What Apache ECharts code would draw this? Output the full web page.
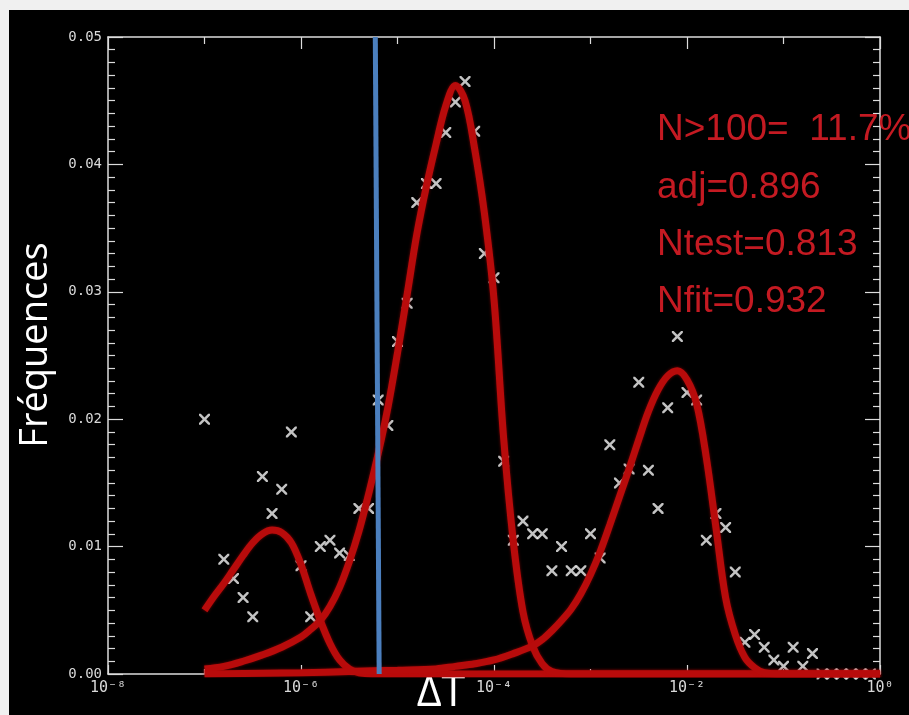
<!DOCTYPE html>
<html>
<head>
<meta charset="utf-8">
<title>Fréquences ΔT</title>
<script src="https://cdn.jsdelivr.net/npm/echarts@6/dist/echarts.min.js"></script>
<style>
  html, body { margin: 0; padding: 0; background: #f0f0f0; }
  #panel { position: absolute; left: 9px; top: 10px; width: 900px; height: 705px; background: #000; }
  #chart { position: absolute; left: 0; top: 0; width: 909px; height: 715px; }
</style>
</head>
<body>
<div id="panel"></div>
<div id="chart"></div>
<script>
// Histogram of ΔT (one bin per 0.1 decade): bin position as log10(ΔT), frequency
const binExp = [
  -7.0, -6.8, -6.7, -6.6, -6.5, -6.4, -6.3, -6.2, -6.1, -6.0,
  -5.9, -5.8, -5.7, -5.6, -5.5, -5.4, -5.3, -5.2, -5.1, -5.0,
  -4.9, -4.8, -4.7, -4.6, -4.5, -4.4, -4.3, -4.2, -4.1, -4.0,
  -3.9, -3.8, -3.7, -3.6, -3.5, -3.4, -3.3, -3.2, -3.1, -3.0,
  -2.9, -2.8, -2.7, -2.6, -2.5, -2.4, -2.3, -2.2, -2.1, -2.0,
  -1.9, -1.8, -1.7, -1.6, -1.5, -1.4, -1.3, -1.2, -1.1, -1.0,
  -0.9, -0.8, -0.7, -0.6, -0.5, -0.4, -0.3, -0.2, -0.1
];
const binFreq = [
  0.0200, 0.0090, 0.0075, 0.0060, 0.0045, 0.0155, 0.0126, 0.0145, 0.0190, 0.0085,
  0.0045, 0.0100, 0.0105, 0.0095, 0.0093, 0.0130, 0.0130, 0.0215, 0.0195, 0.0261,
  0.0291, 0.0370, 0.0385, 0.0385, 0.0425, 0.0449, 0.0465, 0.0426, 0.0330, 0.0311,
  0.0167, 0.0105, 0.0120, 0.0110, 0.0110, 0.0081, 0.0100, 0.0081, 0.0081, 0.0110,
  0.0091, 0.0180, 0.0150, 0.0161, 0.0229, 0.0160, 0.0130, 0.0209, 0.0265, 0.0221,
  0.0215, 0.0105, 0.0126, 0.0115, 0.0080, 0.0025, 0.0031, 0.0021, 0.0011, 0.0006,
  0.0021, 0.0006, 0.0016, 0.0000, 0.0000, 0.0000, 0.0000, 0.0000, 0.0000
];

// Fitted component 1 (short ΔT population)
const fit1Exp = [-7.0, -6.9, -6.8, -6.7, -6.6, -6.5, -6.4, -6.3, -6.2, -6.1, -6.0,
                 -5.9, -5.8, -5.7, -5.6, -5.5, -5.4, -5.2, -4.0, -2.0, 0.0];
const fit1Val = [0.0050, 0.0061, 0.0071, 0.0082, 0.0093, 0.0103, 0.0110, 0.0113, 0.0111, 0.0103, 0.0086,
                 0.0063, 0.0042, 0.0024, 0.0011, 0.0004, 0.0001, 0.0000, 0.0000, 0.0000, 0.0000];

// Fitted component 2 (main peak)
const fit2Exp = [-7.0, -6.8, -6.6, -6.4, -6.2, -6.0, -5.9, -5.8, -5.7, -5.6, -5.5,
                 -5.4, -5.3, -5.2, -5.1, -5.0, -4.9, -4.8, -4.7, -4.6, -4.5,
                 -4.4, -4.3, -4.2, -4.1, -4.0, -3.9, -3.8, -3.7, -3.6, -3.5,
                 -3.4, -3.2, -2.0, 0.0];
const fit2Val = [0.0004, 0.0006, 0.0010, 0.0015, 0.0021, 0.0029, 0.0035, 0.0042, 0.0053, 0.0068, 0.0088,
                 0.0112, 0.0141, 0.0173, 0.0209, 0.0252, 0.0298, 0.0345, 0.0383, 0.0416, 0.0446,
                 0.0462, 0.0450, 0.0412, 0.0362, 0.0294, 0.0185, 0.0104, 0.0049, 0.0022, 0.0008,
                 0.0002, 0.0000, 0.0000, 0.0000];

// Fitted component 3 (long ΔT population)
const fit3Exp = [-7.0, -6.0, -5.5, -5.0, -4.6, -4.4, -4.2, -4.0, -3.8, -3.6, -3.5,
                 -3.4, -3.3, -3.2, -3.1, -3.0, -2.9, -2.8, -2.7, -2.6, -2.5,
                 -2.4, -2.3, -2.2, -2.1, -2.0, -1.9, -1.8, -1.7, -1.6, -1.5,
                 -1.4, -1.3, -1.2, -1.0, 0.0];
const fit3Val = [0.0000, 0.0001, 0.0002, 0.0003, 0.0004, 0.0006, 0.0008, 0.0011, 0.0016, 0.0022, 0.0027,
                 0.0034, 0.0042, 0.0051, 0.0063, 0.0078, 0.0096, 0.0117, 0.0139, 0.0161, 0.0184,
                 0.0206, 0.0223, 0.0234, 0.0238, 0.0231, 0.0212, 0.0170, 0.0115, 0.0060, 0.0031,
                 0.0013, 0.0005, 0.0001, 0.0000, 0.0000];

// Threshold marker (log10 ΔT at top and bottom of the frame)
const thresholdExp = [-5.23, -5.19];
const thresholdVal = [0.05, 0.0];

// Fit summary lines
const statLines = ['N>100=  11.7%', 'adj=0.896', 'Ntest=0.813', 'Nfit=0.932'];

// Axis ticks: labelled decades and the decades in between
const majorDecades = [1e-8, 1e-6, 1e-4, 1e-2, 1];
const minorDecades = [1e-7, 1e-5, 1e-3, 1e-1];
const yTicks = ['0.00', '0.01', '0.02', '0.03', '0.04', '0.05'];
const supers = { '-': '⁻', '0': '⁰', '1': '¹', '2': '²', '3': '³', '4': '⁴', '5': '⁵', '6': '⁶', '7': '⁷', '8': '⁸', '9': '⁹' };

function pairs(exps, vals) {
  return exps.map((e, i) => [Math.pow(10, e), vals[i]]);
}
function powerLabel(v) {
  const e = String(Math.round(Math.log10(v)));
  return '10' + e.split('').map(c => supers[c]).join('');
}

const axisGray = '#dcdcdc';
const curveRed = '#b80b0b';
const labelFont = 'DejaVu Sans Mono';

// "×" outline used for the histogram bins
const crossPath = 'path://M0,0 L1.6,0 L5,3.4 L8.4,0 L10,0 L10,1.6 L6.6,5 L10,8.4 L10,10 L8.4,10 L5,6.6 L1.6,10 L0,10 L0,8.4 L3.4,5 L0,1.6 Z';

function xAxisDef(position, tickValues, tickLen, withLine, withLabels) {
  return {
    type: 'log', logBase: 10, min: 1e-8, max: 1, position: position,
    splitLine: { show: false },
    axisLine: { show: withLine, lineStyle: { color: axisGray, width: 1.5 } },
    axisTick: { show: true, inside: true, length: tickLen, customValues: tickValues,
                lineStyle: { color: axisGray, width: 1.2 } },
    axisLabel: withLabels
      ? { show: true, margin: 7, color: '#d8d8d8', fontFamily: labelFont, fontSize: 15,
          customValues: majorDecades, formatter: powerLabel }
      : { show: false }
  };
}
function yAxisDef(position, withLabels) {
  return {
    type: 'value', position: position, min: 0, max: 0.05, interval: 0.01,
    splitLine: { show: false },
    axisLine: { show: true, lineStyle: { color: axisGray, width: 1.5 } },
    axisTick: { show: true, inside: true, length: 15, lineStyle: { color: axisGray, width: 1.2 } },
    minorTick: { show: true, splitNumber: 10, length: 7, lineStyle: { color: axisGray, width: 1.2 } },
    axisLabel: withLabels
      ? { margin: 6, color: '#d8d8d8', fontFamily: labelFont, fontSize: 14,
          formatter: v => yTicks[Math.round(v * 100)] }
      : { show: false }
  };
}

const curveLine = { color: curveRed, width: 7, shadowColor: 'rgba(190,10,10,0.6)', shadowBlur: 3 };

const chart = echarts.init(document.getElementById('chart'), null, { renderer: 'canvas' });
chart.setOption({
  animation: false,
  backgroundColor: 'transparent',
  grid: { left: 108, right: 29, top: 37, bottom: 41 },
  xAxis: [
    xAxisDef('bottom', majorDecades, 9, true, true),
    xAxisDef('bottom', minorDecades, 5, false, false),
    xAxisDef('top', majorDecades, 12, true, false),
    xAxisDef('top', minorDecades, 7, false, false)
  ],
  yAxis: [yAxisDef('left', true), yAxisDef('right', false)],
  series: [
    {
      name: 'histogram', type: 'scatter', z: 2,
      symbol: crossPath, symbolSize: 11,
      itemStyle: { color: '#f4f4f4' },
      data: pairs(binExp, binFreq)
    },
    { name: 'fit 1', type: 'line', z: 3, smooth: 0.35, showSymbol: false, lineStyle: curveLine, data: pairs(fit1Exp, fit1Val) },
    { name: 'fit 2', type: 'line', z: 3, smooth: 0.35, showSymbol: false, lineStyle: curveLine, data: pairs(fit2Exp, fit2Val) },
    { name: 'fit 3', type: 'line', z: 3, smooth: 0.35, showSymbol: false, lineStyle: curveLine, data: pairs(fit3Exp, fit3Val) },
    {
      name: 'seuil', type: 'line', z: 4, showSymbol: false, clip: false,
      lineStyle: { color: '#4b7fbe', width: 5 },
      data: pairs(thresholdExp, thresholdVal)
    }
  ],
  graphic: [
    {
      type: 'text', x: 36, y: 345, rotation: Math.PI / 2,
      style: { text: 'Fréquences', fill: '#ffffff', font: '38px "Open Sans"', align: 'center', verticalAlign: 'middle' }
    },
    {
      type: 'text', x: 441, y: 694,
      style: { text: 'ΔT', fill: '#ffffff', font: '43px "Open Sans"', align: 'center', verticalAlign: 'middle' }
    }
  ].concat(statLines.map((t, i) => ({
    type: 'text', x: 657, y: 130 + i * 57.3, z: 10,
    style: { text: t, fill: '#c41a22', font: '37px "Liberation Sans"', align: 'left', verticalAlign: 'middle' }
  })))
});
</script>
</body>
</html>
